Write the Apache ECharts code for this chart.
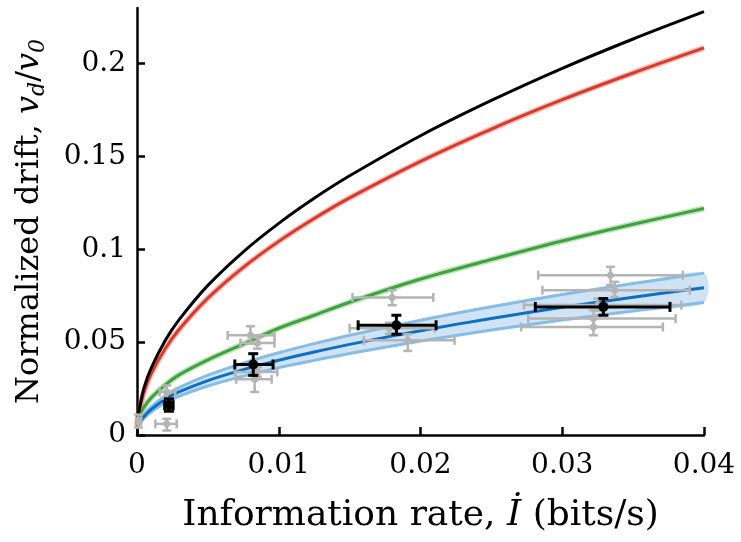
<!DOCTYPE html>
<html>
<head>
<meta charset="utf-8">
<script src="https://cdn.jsdelivr.net/npm/echarts@6/dist/echarts.min.js"></script>
<style>
  html, body { margin: 0; padding: 0; background: #fff; }
  #chart { width: 741px; height: 542px; }
</style>
</head>
<body>
<div id="chart"></div>
<script>
// information rate (bits/s) where the model curves were read
const curveX = [0.00002, 0.0001, 0.0005, 0.001, 0.002, 0.003, 0.005, 0.0075, 0.01, 0.0125, 0.015, 0.02, 0.025, 0.03, 0.035, 0.04]
const blackLine = [0.0051, 0.0114, 0.0255, 0.0360, 0.0510, 0.0624, 0.0806, 0.0987, 0.1140, 0.1275, 0.1396, 0.1612, 0.1802, 0.1975, 0.2133, 0.2280]
const redLine = [0.0047, 0.0104, 0.0233, 0.0330, 0.0466, 0.0571, 0.0737, 0.0903, 0.1043, 0.1166, 0.1277, 0.1474, 0.1648, 0.1806, 0.1950, 0.2085]
const greenLine = [0.0060, 0.0095, 0.0150, 0.0200, 0.0270, 0.0325, 0.0405, 0.0490, 0.0575, 0.0645, 0.0715, 0.0840, 0.0945, 0.1045, 0.1135, 0.1220]
const blueLine = [0.0040, 0.0058, 0.0100, 0.0138, 0.0193, 0.0233, 0.0293, 0.0352, 0.0403, 0.0447, 0.0488, 0.0562, 0.0628, 0.0688, 0.0742, 0.0793]
const blueUpper = [0.0044, 0.0064, 0.0110, 0.0152, 0.0212, 0.0256, 0.0322, 0.0387, 0.0443, 0.0492, 0.0537, 0.0618, 0.0691, 0.0757, 0.0816, 0.0872]
const blueLower = [0.0036, 0.0052, 0.0090, 0.0124, 0.0174, 0.0210, 0.0264, 0.0317, 0.0363, 0.0402, 0.0439, 0.0506, 0.0565, 0.0619, 0.0668, 0.0714]

// [rate, drift, rate low, rate high, drift low, drift high]
const greyPoints = [
  [0.0021, 0.0231, 0.0016, 0.0027, 0.0197, 0.0267],
  [0.0021, 0.0060, 0.0013, 0.0028, 0.0024, 0.0087],
  [0.0001, 0.0075, 0.0000, 0.0003, 0.0040, 0.0110],
  [0.0080, 0.0537, 0.0064, 0.0097, 0.0492, 0.0586],
  [0.0085, 0.0495, 0.0073, 0.0097, 0.0465, 0.0525],
  [0.0085, 0.0339, 0.0069, 0.0099, 0.0315, 0.0365],
  [0.0083, 0.0300, 0.0070, 0.0095, 0.0232, 0.0358],
  [0.0180, 0.0741, 0.0152, 0.0209, 0.0699, 0.0780],
  [0.0191, 0.0510, 0.0160, 0.0224, 0.0453, 0.0543],
  [0.0178, 0.0575, 0.0150, 0.0210, 0.0545, 0.0605],
  [0.0334, 0.0861, 0.0283, 0.0385, 0.0807, 0.0906],
  [0.0337, 0.0780, 0.0286, 0.0390, 0.0744, 0.0825],
  [0.0325, 0.0700, 0.0273, 0.0384, 0.0670, 0.0735],
  [0.0322, 0.0627, 0.0276, 0.0380, 0.0582, 0.0672],
  [0.0322, 0.0582, 0.0271, 0.0371, 0.0537, 0.0627],
]
const blackPoints = [
  [0.00225, 0.0161, 0.00195, 0.00255, 0.0128, 0.0195],
  [0.0082, 0.0380, 0.0069, 0.0096, 0.0321, 0.0438],
  [0.0183, 0.0591, 0.0156, 0.0211, 0.0543, 0.0645],
  [0.0329, 0.0690, 0.0281, 0.0376, 0.0645, 0.0735],
]

const xTicks = [0, 0.01, 0.02, 0.03, 0.04]
const yTicks = [0, 0.05, 0.1, 0.15, 0.2]

const FONT = 'DejaVu Serif'
const TICK_FS = 28

const pairs = (ys) => curveX.map((x, i) => [x, ys[i]])

const lineSeries = (ys, color, width, z) => ({
  type: 'line',
  data: pairs(ys),
  smooth: 0.3,
  showSymbol: false,
  silent: true,
  z,
  lineStyle: { color, width },
})

const errorBars = (color, lw, cap, r) => (params, api) => {
  const c = api.coord([api.value(0), api.value(1)])
  const xl = api.coord([api.value(2), api.value(1)])[0]
  const xh = api.coord([api.value(3), api.value(1)])[0]
  const yl = api.coord([api.value(0), api.value(4)])[1]
  const yh = api.coord([api.value(0), api.value(5)])[1]
  const st = { stroke: color, lineWidth: lw }
  const seg = (x1, y1, x2, y2) => ({ type: 'line', shape: { x1, y1, x2, y2 }, style: st })
  return {
    type: 'group',
    children: [
      seg(xl, c[1], xh, c[1]),
      seg(c[0], yl, c[0], yh),
      seg(xl, c[1] - cap, xl, c[1] + cap),
      seg(xh, c[1] - cap, xh, c[1] + cap),
      seg(c[0] - cap, yl, c[0] + cap, yl),
      seg(c[0] - cap, yh, c[0] + cap, yh),
      { type: 'circle', shape: { cx: c[0], cy: c[1], r }, style: { fill: color } },
    ],
  }
}

const chart = echarts.init(document.getElementById('chart'))

chart.setOption({
  animation: false,
  grid: { left: 137, right: 37, top: 8, bottom: 107 },
  xAxis: {
    type: 'value',
    min: 0,
    max: 0.04,
    interval: 0.01,
    name: '{t|Information rate, }{i|İ}{t| (bits/s)}',
    nameLocation: 'middle',
    nameGap: 63,
    nameTextStyle: {
      rich: {
        t: { fontFamily: FONT, fontSize: 36, color: '#000' },
        i: { fontFamily: FONT, fontSize: 36, fontStyle: 'italic', color: '#000' },
      },
    },
    axisLine: { onZero: false, lineStyle: { color: '#000', width: 2.5 } },
    axisTick: { inside: true, length: 8, customValues: xTicks, lineStyle: { color: '#000', width: 2.5 } },
    axisLabel: { customValues: xTicks, margin: 17, fontFamily: FONT, fontSize: TICK_FS, color: '#000' },
    splitLine: { show: false },
  },
  yAxis: {
    type: 'value',
    min: 0,
    max: 0.23,
    interval: 0.05,
    name: '{t|Normalized drift, }{i|v}{s|d}{t|/}{i|v}{s|0}',
    nameLocation: 'middle',
    nameGap: 88,
    nameTextStyle: {
      rich: {
        t: { fontFamily: FONT, fontSize: 32, lineHeight: 39, color: '#000' },
        i: { fontFamily: FONT, fontSize: 32, lineHeight: 39, fontStyle: 'italic', color: '#000' },
        s: { fontFamily: FONT, fontSize: 22, lineHeight: 22, fontStyle: 'italic', verticalAlign: 'bottom', color: '#000' },
      },
    },
    axisLine: { onZero: false, lineStyle: { color: '#000', width: 2.5 } },
    axisTick: { inside: true, length: 8, customValues: yTicks, lineStyle: { color: '#000', width: 2.5 } },
    axisLabel: { customValues: yTicks, margin: 11, fontFamily: FONT, fontSize: TICK_FS, color: '#000' },
    splitLine: { show: false },
  },
  series: [
    {
      type: 'custom',
      silent: true,
      z: 1,
      data: [[0]],
      renderItem: (params, api) => {
        const pts = curveX.map((x, i) => api.coord([x, blueUpper[i]]))
        for (let i = curveX.length - 1; i >= 0; i--) pts.push(api.coord([curveX[i], blueLower[i]]))
        return { type: 'polygon', shape: { points: pts, smooth: 0.3 }, style: { fill: '#cfe3f4' } }
      },
    },
    lineSeries(blueUpper, '#86bde6', 3, 2),
    lineSeries(blueLower, '#86bde6', 3, 2),
    lineSeries(blueLine, '#0b6fc2', 3, 3),
    lineSeries(greenLine, 'rgba(70,175,70,0.35)', 6, 3),
    lineSeries(greenLine, '#3ea33a', 3, 4),
    lineSeries(redLine, 'rgba(225,70,60,0.35)', 6, 3),
    lineSeries(redLine, '#d83a2c', 3, 4),
    lineSeries(blackLine, '#000', 3, 4),
    {
      type: 'custom',
      silent: true,
      z: 5,
      data: greyPoints,
      renderItem: errorBars('#b4b4b4', 2.5, 4.5, 3.5),
    },
    {
      type: 'custom',
      silent: true,
      z: 6,
      data: blackPoints,
      renderItem: errorBars('#000', 3, 5, 5),
    },
  ],
})
</script>
</body>
</html>
